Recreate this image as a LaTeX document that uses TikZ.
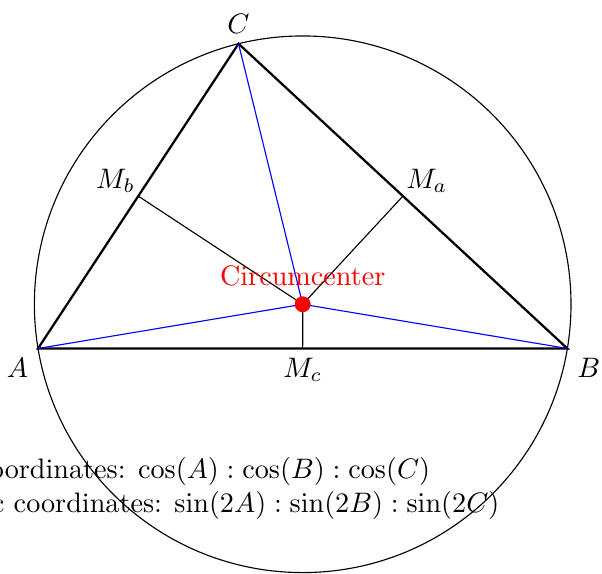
\documentclass[tikz,border=0pt]{standalone}
\usepackage{amsmath}
\usetikzlibrary{calc,positioning}
\tikzset{
  sideLine/.style={line width=0.8pt, draw=black},
  radiusLine/.style={line width=0.4pt, draw=blue},
  perpLine/.style={line width=0.4pt, draw=black},
  circumCircle/.style={line width=0.4pt, draw=black},
  centerDot/.style={
    circle, fill=red, inner sep=2pt, minimum size=0pt,
  },
  ptLabel/.style={inner sep=3.33pt},
}

\begin{document}
\begin{tikzpicture}

\useasboundingbox (-0.474,-2.80) rectangle (7.032,4.345);

% triangle
\coordinate (A) at (0,0);
\coordinate (B) at (6.6,0);
\coordinate (C) at (2.5,3.8);

% midpoints of the sides
\coordinate (Ma) at ($(B)!0.5!(C)$);
\coordinate (Mb) at ($(A)!0.5!(C)$);
\coordinate (Mc) at ($(A)!0.5!(B)$);

% circumcenter from two perpendicular bisectors
\coordinate (McUp) at ($(Mc)!1cm!90:(B)$);
\coordinate (MbUp) at ($(Mb)!1cm!90:(C)$);
\coordinate (O) at (intersection of Mc--McUp and Mb--MbUp);

\draw[circumCircle] let \p1 = ($(A)-(O)$), \n1 = {veclen(\x1,\y1)}
  in (O) circle (\n1);

\draw[sideLine] (A) -- (B) -- (C) -- cycle;

\draw[radiusLine] (O) -- (A);
\draw[radiusLine] (O) -- (B);
\draw[radiusLine] (O) -- (C);

\draw[perpLine] (O) -- (Ma);
\draw[perpLine] (O) -- (Mb);
\draw[perpLine] (O) -- (Mc);

\node[centerDot, label={[red]above:Circumcenter}] (circ) at (O) {};

\node[ptLabel, below left] (labA) at (A) {$A$};
\node[ptLabel, below right] (labB) at (B) {$B$};
\node[ptLabel, above] (labC) at (C) {$C$};
\node[ptLabel, above right, inner sep=1pt] (labMa) at (Ma) {$M_a$};
\node[ptLabel, above left, inner sep=1pt] (labMb) at (Mb) {$M_b$};
\node[ptLabel, below] (labMc) at (Mc) {$M_c$};

\node[align=left] (coords) at (1.78,-1.746) {%
  Trilinear coordinates: $\cos(A) : \cos(B) : \cos(C)$\\
  Barycentric coordinates: $\sin(2A) : \sin(2B) : \sin(2C)$%
};

\end{tikzpicture}
\end{document}
